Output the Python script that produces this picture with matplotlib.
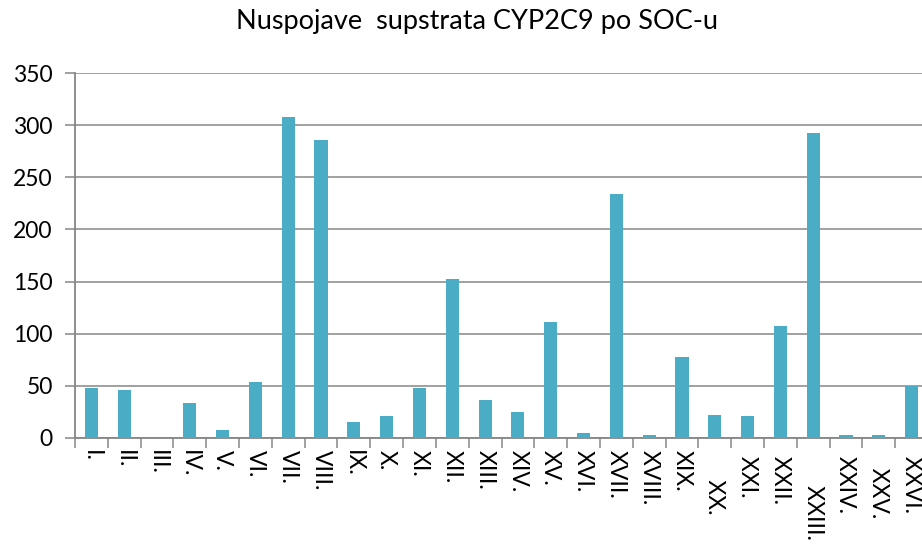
import matplotlib
matplotlib.use("Agg")
import matplotlib.pyplot as plt
import numpy as np

plt.rcParams['font.family'] = ['Lato', 'DejaVu Sans']

# chart data
title = "Nuspojave  supstrata CYP2C9 po SOC-u"
categories = ["I.", "II.", "III.", "IV.", "V.", "VI.", "VII.", "VIII.", "IX.", "X.",
              "XI.", "XII.", "XIII.", "XIV.", "XV.", "XVI.", "XVII.", "XVIII.", "XIX.",
              "     XX.", " XXI.", " XXII.", "      XXIII.", " XXIV.", "   XXV.", " XXVI."]
values = [48, 46, 0, 34, 8, 54, 308, 286, 15, 21,
          48, 152, 36, 25, 111, 5, 234, 3, 78,
          22, 21, 107, 292, 3, 3, 50]
yticks = [0, 50, 100, 150, 200, 250, 300, 350]

bar_color = "#4BACC6"
grid_color = "#868686"

fig = plt.figure(figsize=(9.22, 5.48), dpi=100)
# axes runs past the right edge of the image, as in the reference
ax = fig.add_axes([75/922, 1 - 438/548, 853/922, 365/548])

x = np.arange(len(values)) + 0.5
ax.bar(x, values, width=0.4, color=bar_color, zorder=3)

ax.set_xlim(0, len(values))
ax.set_ylim(0, 350)
ax.set_yticks(yticks)
ax.set_yticklabels([str(v) for v in yticks], fontsize=16.5)
ax.yaxis.grid(True, color=grid_color, linewidth=1.1, zorder=0)

ax.set_xticks(np.arange(len(values) + 1))
ax.set_xticklabels([])
ax.set_xticks(x, minor=True)
ax.set_xticklabels(categories, minor=True, rotation=270, fontsize=16.5,
                   va='top', ha='center')
ax.tick_params(axis='x', which='minor', length=0, pad=9)
ax.tick_params(axis='x', which='major', length=7, width=1.1, color=grid_color)
ax.tick_params(axis='y', length=7, width=1.1, color=grid_color, pad=9)

for s in ['top', 'right']:
    ax.spines[s].set_visible(False)
for s in ['left', 'bottom']:
    ax.spines[s].set_color(grid_color)
    ax.spines[s].set_linewidth(1.3)

fig.text(477/922, 1 - 22/548, title, fontsize=19.5, ha='center', va='center')

fig.savefig("out.png", dpi=100)
